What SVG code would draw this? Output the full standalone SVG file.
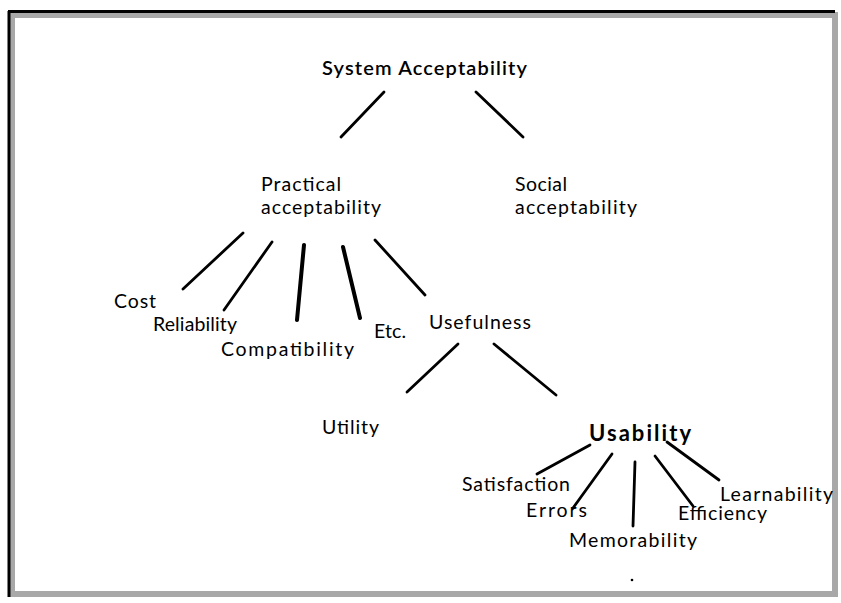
<svg xmlns="http://www.w3.org/2000/svg" width="841" height="603" viewBox="0 0 841 603">
<style>
text{font-family:Lato,"Open Sans","Liberation Sans",sans-serif;fill:#000;font-size:19.5px}
.t{font-weight:600;font-size:20px}
.b{font-weight:700;font-size:22px}
.c line{stroke:#000;stroke-width:2.8;stroke-linecap:round}
.c .k{stroke-width:4}
</style>
<rect width="841" height="603" fill="#fff"/>
<g id="frame">
<rect x="12" y="15" width="823" height="579" fill="none" stroke="#a8a8a8" stroke-width="6"/>
<line x1="9" y1="11" x2="9" y2="597" stroke="#000" stroke-width="3"/>
<line x1="8" y1="11.5" x2="835" y2="11.5" stroke="#000" stroke-width="3"/>
</g>
<g class="c" id="connectors">
<line x1="384" y1="92" x2="341" y2="137"/>
<line x1="476" y1="92" x2="523" y2="137"/>
<line x1="243" y1="233" x2="183" y2="289"/>
<line x1="272" y1="242" x2="224" y2="310"/>
<line class="k" x1="304" y1="245" x2="297" y2="320"/>
<line class="k" x1="343" y1="247" x2="360" y2="318"/>
<line x1="375" y1="240" x2="425" y2="295"/>
<line x1="458" y1="344" x2="407" y2="392"/>
<line x1="494" y1="344" x2="556" y2="395"/>
<line x1="590" y1="445" x2="537" y2="474"/>
<line x1="612" y1="454" x2="573" y2="508"/>
<line x1="635" y1="462" x2="633" y2="526"/>
<line x1="655" y1="456" x2="693" y2="506"/>
<line x1="667" y1="442" x2="719" y2="480"/>
</g>
<g id="n-system"><text class="t" x="322" y="75" textLength="205">System Acceptability</text></g>
<g id="n-practical"><text x="261" y="191" textLength="80">Practical</text><text x="261" y="214" textLength="120">acceptability</text></g>
<g id="n-social"><text x="515" y="191" textLength="52">Social</text><text x="515" y="214" textLength="122">acceptability</text></g>
<g id="n-cost"><text x="114" y="308" textLength="42">Cost</text></g>
<g id="n-reliability"><text x="153" y="331" textLength="84">Reliability</text></g>
<g id="n-compat"><text x="221" y="356" textLength="133">Compatibility</text></g>
<g id="n-etc"><text x="374" y="338" textLength="32">Etc.</text></g>
<g id="n-usefulness"><text x="429" y="329" textLength="102">Usefulness</text></g>
<g id="n-utility"><text x="322" y="434" textLength="57">Utility</text></g>
<g id="n-usability"><text class="b" x="589" y="441" textLength="102">Usability</text></g>
<g id="n-satisfaction"><text x="462" y="491" textLength="108">Satisfaction</text></g>
<g id="n-errors"><text x="526" y="517" textLength="61">Errors</text></g>
<g id="n-memorability"><text x="569" y="547" textLength="128">Memorability</text></g>
<g id="n-efficiency"><text x="678" y="520" textLength="89">Efficiency</text></g>
<g id="n-learnability"><text x="720" y="501" textLength="113">Learnability</text></g>
<circle cx="632" cy="580" r="1.3" fill="#000"/>
</svg>
